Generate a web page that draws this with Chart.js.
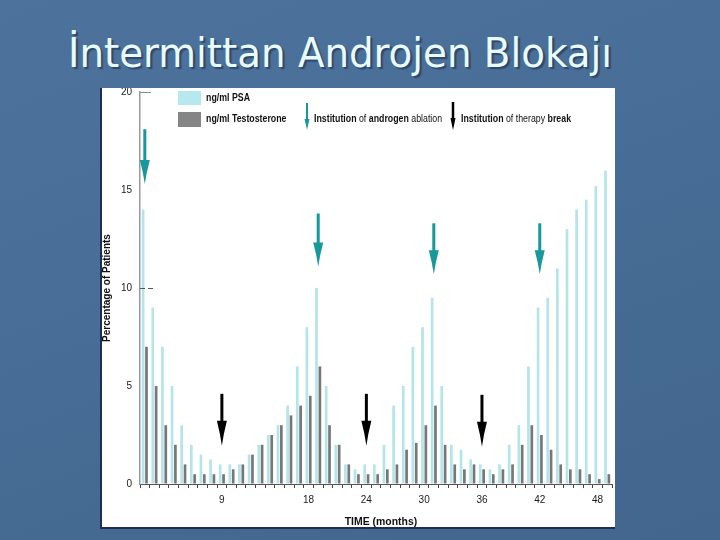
<!DOCTYPE html>
<html>
<head>
<meta charset="utf-8">
<script src="https://cdn.jsdelivr.net/npm/chart.js@4.4.1/dist/chart.umd.min.js"></script>
<style>
  html, body { margin: 0; padding: 0; }
  body {
    width: 720px; height: 540px; overflow: hidden; position: relative;
    background: linear-gradient(160deg, #4d739c 0%, #486d96 45%, #42668d 100%);
  }
  #title {
    position: absolute; left: 68px; top: 30px;
    font: 40px "DejaVu Sans Condensed", "DejaVu Sans", sans-serif;
    color: #e8fbff; white-space: nowrap;
    text-shadow: 2px 2px 1px rgba(25, 40, 70, 0.55);
    transform-origin: 0 0;
  }
  #panel {
    position: absolute; left: 100px; top: 88px; width: 515px; height: 441px;
    background: #fff; box-sizing: border-box;
    border-left: 2px solid #1f2d52; border-bottom: 2px solid #1f2d52;
  }
  #wrap { position: absolute; left: 101px; top: 88px; width: 514px; height: 440px; }
</style>
</head>
<body>
<div id="title">İntermittan Androjen Blokajı</div>
<div id="panel"></div>
<div id="wrap"><canvas id="chart" width="514" height="440"></canvas></div>
<script>
// --- data ---
const months = ['1','2','3','4','5','6','7','8','9','10','11','12','13','14','15','16','17',
  '18','19','20','21','22','23','24','25','26','27','28','29','30','31','32','33','34',
  '35','36','37','38','39','40','41','42','43','44','45','46','47','48','49'];
const psa = [14, 9, 7, 5, 3, 2, 1.5, 1.25, 1, 1, 1, 1.5, 2, 2.5, 3, 4, 6,
  8, 10, 5, 2, 1, 0.75, 1, 1, 2, 4, 5, 7, 8, 9.5, 5, 2, 1.75,
  1.25, 1, 0.75, 1, 2, 3, 6, 9, 9.5, 11, 13, 14, 14.5, 15.2, 16];
const testosterone = [7, 5, 3, 2, 1, 0.5, 0.5, 0.5, 0.5, 0.75, 1, 1.5, 2, 2.5, 3, 3.5, 4,
  4.5, 6, 3, 2, 1, 0.5, 0.5, 0.5, 0.75, 1, 1.75, 2.1, 3, 4, 2, 1, 0.75,
  1, 0.75, 0.5, 0.75, 1, 2, 3, 2.5, 1.75, 1, 0.75, 0.75, 0.5, 0.25, 0.5];
const tickLabels = ['9', '18', '24', '30', '36', '42', '48'];
const yTicks = [0, 5, 10, 15, 20];

// arrows: month, top value, tip value
const ablationMonths = ['1', '19', '31', '42'];
const ablationTop = [18.1, 13.8, 13.3, 13.3];
const ablationTip = [15.3, 11.1, 10.7, 10.7];
const breakMonths = ['9', '24', '36'];
const breakTop = [4.6, 4.6, 4.55];
const breakTip = [1.95, 1.95, 1.9];

const PSA_COLOR = '#b3e5e9';
const T_COLOR = '#777777';
const TEAL = '#17989a';
const FONT = '"Liberation Sans Narrow", "Liberation Sans", Arial, sans-serif';

// fit title width to reference
const titleEl = document.getElementById('title');
titleEl.style.transform = 'scaleX(' + (544 / titleEl.getBoundingClientRect().width) + ')';

function drawArrow(ctx, px, yTop, yTip, color, shaft, headW, headL) {
  ctx.fillStyle = color;
  ctx.fillRect(px - shaft / 2, yTop, shaft, yTip - headL - yTop + 1);
  ctx.beginPath();
  ctx.moveTo(px - headW / 2, yTip - headL);
  ctx.quadraticCurveTo(px - shaft / 2, yTip - headL * 0.45, px, yTip);
  ctx.quadraticCurveTo(px + shaft / 2, yTip - headL * 0.45, px + headW / 2, yTip - headL);
  ctx.closePath();
  ctx.fill();
}

// narrow text: squeeze horizontally like the condensed face in the reference
function drawSegments(ctx, x, y, parts, size = 10, squeeze = 0.88) {
  ctx.save();
  ctx.translate(x, y);
  ctx.scale(squeeze, 1);
  let cx = 0;
  parts.forEach(([txt, w]) => {
    ctx.font = w + ' ' + size + 'px ' + FONT;
    ctx.fillText(txt, cx, 0);
    cx += ctx.measureText(txt).width;
  });
  ctx.restore();
  return cx * squeeze;
}

const overlay = {
  id: 'overlay',
  afterDatasetsDraw(chart) {
    const { ctx, chartArea, scales: { x, y } } = chart;
    ctx.save();
    // y axis inner marks
    ctx.strokeStyle = '#8a8a8a';
    ctx.lineWidth = 1;
    ctx.beginPath();
    ctx.moveTo(chartArea.left, Math.round(y.getPixelForValue(20)) + 0.5);
    ctx.lineTo(chartArea.left + 11, Math.round(y.getPixelForValue(20)) + 0.5);
    ctx.stroke();
    ctx.strokeStyle = '#555';
    ctx.setLineDash([5, 3]);
    ctx.beginPath();
    ctx.moveTo(chartArea.left, Math.round(y.getPixelForValue(10)) + 0.5);
    ctx.lineTo(chartArea.left + 13, Math.round(y.getPixelForValue(10)) + 0.5);
    ctx.stroke();
    ctx.setLineDash([]);

    // arrows
    ablationMonths.forEach((m, i) => {
      const px = x.getPixelForValue(months.indexOf(m));
      drawArrow(ctx, px, y.getPixelForValue(ablationTop[i]), y.getPixelForValue(ablationTip[i]), TEAL, 3, 10, 24);
    });
    breakMonths.forEach((m, i) => {
      const px = x.getPixelForValue(months.indexOf(m));
      drawArrow(ctx, px, y.getPixelForValue(breakTop[i]), y.getPixelForValue(breakTip[i]), '#000', 3, 10, 25);
    });

    // legend
    const lx = chartArea.left + 38, ly = chartArea.top - 1;
    ctx.fillStyle = '#b6e9ee';
    ctx.fillRect(lx, ly, 23, 14);
    ctx.fillStyle = '#858585';
    ctx.fillRect(lx, ly + 21, 23, 15);
    ctx.fillStyle = '#111';
    ctx.textBaseline = 'middle';
    drawSegments(ctx, lx + 28, ly + 7, [['ng/ml PSA', 'bold']]);
    drawSegments(ctx, lx + 28, ly + 28, [['ng/ml Testosterone', 'bold']]);
    drawArrow(ctx, lx + 129, ly + 12, ly + 39, TEAL, 2, 5, 11);
    ctx.fillStyle = '#111';
    drawSegments(ctx, lx + 136, ly + 28,
      [['Institution', 'bold'], [' of ', 'normal'], ['androgen', 'bold'], [' ablation', 'normal']]);
    drawArrow(ctx, lx + 275, ly + 11, ly + 39, '#000', 2.5, 5, 12);
    ctx.fillStyle = '#111';
    drawSegments(ctx, lx + 283, ly + 28,
      [['Institution', 'bold'], [' of therapy ', 'normal'], ['break', 'bold']]);

    // x title
    ctx.font = 'bold 11px ' + FONT;
    const w = ctx.measureText('TIME (months)').width * 0.95;
    drawSegments(ctx, (chartArea.left + chartArea.right) / 2 + 5 - w / 2, chart.height - 6,
      [['TIME', 'bold'], [' (months)', 'bold']], 11, 0.95);
    ctx.restore();
  }
};

new Chart(document.getElementById('chart'), {
  type: 'bar',
  data: {
    labels: months,
    datasets: [
      { label: 'ng/ml PSA', data: psa, backgroundColor: PSA_COLOR },
      { label: 'ng/ml Testosterone', data: testosterone, backgroundColor: T_COLOR }
    ]
  },
  options: {
    responsive: false,
    animation: false,
    devicePixelRatio: 1,
    datasets: { bar: { categoryPercentage: 0.7, barPercentage: 0.8 } },
    layout: { padding: { top: 4, right: 3, left: 0, bottom: 0 } },
    plugins: { legend: { display: false }, tooltip: { enabled: false } },
    scales: {
      x: {
        afterFit: s => { s.height = 44; s.paddingLeft = 0; s.paddingRight = 0; },
        grid: { drawOnChartArea: false, drawTicks: true, tickLength: 4, color: '#444', offset: true },
        border: { color: '#555', width: 1 },
        ticks: {
          autoSkip: false, maxRotation: 0, padding: 6, color: '#1a1a1a',
          font: { family: FONT, size: 10 },
          callback: function (v) {
            const lab = this.getLabelForValue(v);
            return tickLabels.includes(lab) ? lab : '';
          }
        }
      },
      y: {
        min: 0, max: 20,
        afterFit: s => { s.width = 39; s.paddingTop = 0; s.paddingBottom = 0; },
        afterBuildTicks: s => { s.ticks = yTicks.map(v => ({ value: v })); },
        grid: { drawOnChartArea: false, drawTicks: false },
        border: { color: '#9a9a9a', width: 1.5 },
        ticks: { padding: 8, color: '#1a1a1a', font: { family: FONT, size: 10 } },
        title: {
          display: true, text: 'Percentage of Patients', color: '#111',
          font: { family: FONT, size: 10, weight: 'bold' }, padding: 0
        }
      }
    }
  },
  plugins: [overlay]
});
</script>
</body>
</html>
